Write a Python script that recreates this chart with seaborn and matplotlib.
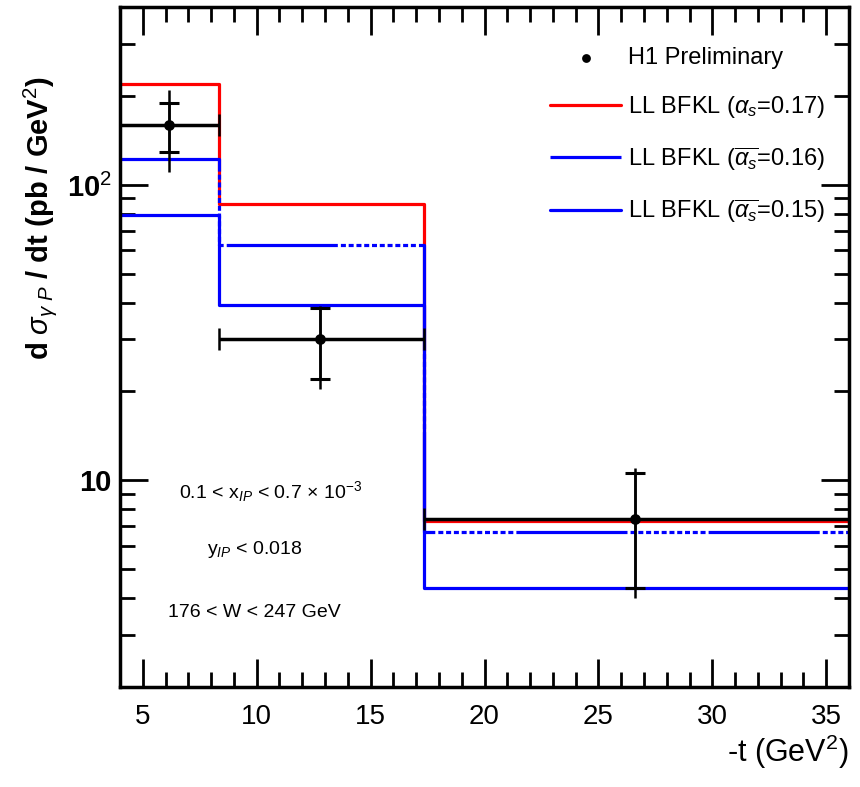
import numpy as np
import pandas as pd
import matplotlib
matplotlib.use("Agg")
import matplotlib.pyplot as plt
import seaborn as sns
from matplotlib.ticker import FixedLocator, LogLocator, NullFormatter, MultipleLocator

# ---- data ----
bin_edges = [4.0, 8.34, 17.33, 36.0]
bfkl_017 = [219.0, 86.3, 7.28]
bfkl_016 = [122.4, 62.8, 6.68]
bfkl_015 = [79.0, 39.3, 4.31]

data_t = [6.16, 12.77, 26.6]
data_xsec = [159.0, 30.2, 7.4]
data_stat_hi = [189.7, 38.4, 10.6]
data_stat_lo = [129.5, 22.0, 4.32]
data_tot_hi = [209.0, 38.9, 11.0]
data_tot_lo = [110.9, 20.4, 4.0]

legend_labels = ["H1 Preliminary",
                 r"LL BFKL ($\alpha_s$=0.17)",
                 r"LL BFKL ($\overline{\alpha_s}$=0.16)",
                 r"LL BFKL ($\overline{\alpha_s}$=0.15)"]

sns.set_style("ticks")
plt.rcParams['font.family'] = ['Liberation Sans', 'DejaVu Sans']
plt.rcParams['mathtext.fontset'] = 'custom'
plt.rcParams['mathtext.rm'] = 'Liberation Sans'
plt.rcParams['mathtext.it'] = 'Liberation Sans:italic'
plt.rcParams['mathtext.bf'] = 'Liberation Sans:bold'
plt.rcParams['lines.scale_dashes'] = False
plt.rcParams['text.color'] = 'black'
plt.rcParams['axes.labelcolor'] = 'black'
plt.rcParams['xtick.color'] = 'black'
plt.rcParams['ytick.color'] = 'black'
plt.rcParams['axes.edgecolor'] = 'black'

fig = plt.figure(figsize=(8.6, 7.87), dpi=100)
ax = fig.add_axes([120/860, 1-687/787, (849-120)/860, (687-7)/787])

def stepdf(vals):
    return pd.DataFrame({"t": bin_edges, "v": list(vals) + [vals[-1]]})

lw = 2.3
d = stepdf(bfkl_017)
sns.lineplot(data=d, x="t", y="v", drawstyle="steps-post", color="#ff0000",
             linewidth=lw, ax=ax, label=legend_labels[1], legend=False)
d = stepdf(bfkl_015)
sns.lineplot(data=d, x="t", y="v", drawstyle="steps-post", color="#0000ff",
             linewidth=lw, ax=ax, label=legend_labels[3], legend=False)
d = stepdf(bfkl_016)
dash = (0, (80, 2.2) + (3.6, 2.0) * 9 + (3.6, 2.2))
sns.lineplot(data=d, x="t", y="v", drawstyle="steps-post", color="#0000ff",
             linewidth=lw, linestyle=dash, ax=ax, label=legend_labels[2], legend=False)

# data: horizontal bin bars
centers = [(bin_edges[i] + bin_edges[i+1]) / 2 for i in range(3)]
halfw = [(bin_edges[i+1] - bin_edges[i]) / 2 for i in range(3)]
ax.errorbar(centers, data_xsec, xerr=halfw, fmt="none", ecolor="black",
            elinewidth=2.5, capsize=8, capthick=1.8, zorder=5)
ax.errorbar(data_t, data_xsec,
            yerr=[np.array(data_xsec) - np.array(data_tot_lo), np.array(data_tot_hi) - np.array(data_xsec)],
            fmt="none", ecolor="black", elinewidth=1.8, capsize=0, zorder=5)
ax.errorbar(data_t, data_xsec,
            yerr=[np.array(data_xsec) - np.array(data_stat_lo), np.array(data_stat_hi) - np.array(data_xsec)],
            fmt="none", ecolor="black", elinewidth=1.8, capsize=7, capthick=2.2, zorder=5)
sns.scatterplot(x=data_t, y=data_xsec, color="black", s=60, edgecolor="black",
                linewidth=0, ax=ax, zorder=6, label=legend_labels[0], legend=False)

ax.set_yscale("log")
ax.set_xlim(4, 36)
ax.set_ylim(2, 400)

ax.xaxis.set_major_locator(FixedLocator([5, 10, 15, 20, 25, 30, 35]))
ax.xaxis.set_minor_locator(MultipleLocator(1))
ax.yaxis.set_major_locator(FixedLocator([10, 100]))
ax.yaxis.set_minor_locator(LogLocator(base=10, subs=np.arange(2, 10)))
ax.yaxis.set_minor_formatter(NullFormatter())
ax.set_yticklabels(["10", r"10$^2$"])
ax.tick_params(which="both", direction="in", top=True, right=True, width=2, colors="black")
ax.tick_params(which="major", length=20)
ax.tick_params(which="minor", length=11)
ax.tick_params(axis="x", labelsize=20, pad=12)
ax.tick_params(axis="y", labelsize=21, pad=6)
for lab in ax.get_yticklabels():
    lab.set_fontweight("bold")
for s in ax.spines.values():
    s.set_linewidth(2.5)
    s.set_color("black")

ax.set_xlabel(r"-t (GeV$^2$)", fontsize=22, loc="right", labelpad=2)
ax.set_ylabel(r"d $\sigma_{\gamma\ P}$ / dt (pb / GeV$^2$)", fontsize=21,
              fontweight="bold", va="center")
ax.yaxis.set_label_coords(-0.11, 0.69)

ax.text(0.206, 0.287, r"0.1 < x$_{IP}$ < 0.7 × 10$^{-3}$", transform=ax.transAxes,
        ha="center", va="center", fontsize=14)
ax.text(0.185, 0.2015, r"y$_{IP}$ < 0.018", transform=ax.transAxes,
        ha="center", va="center", fontsize=14)
ax.text(0.185, 0.110, "176 < W < 247 GeV", transform=ax.transAxes,
        ha="center", va="center", fontsize=14)

handles, labels = ax.get_legend_handles_labels()
order = [labels.index(l) for l in legend_labels]
leg = ax.legend([handles[i] for i in order], [labels[i] for i in order],
                loc="upper right", bbox_to_anchor=(0.99, 0.965), frameon=False,
                fontsize=17, labelspacing=1.05, handlelength=3.0, handletextpad=0.3,
                borderaxespad=0.3)
leg.legend_handles[0].set_sizes([40])

fig.savefig("out.png", dpi=100)
